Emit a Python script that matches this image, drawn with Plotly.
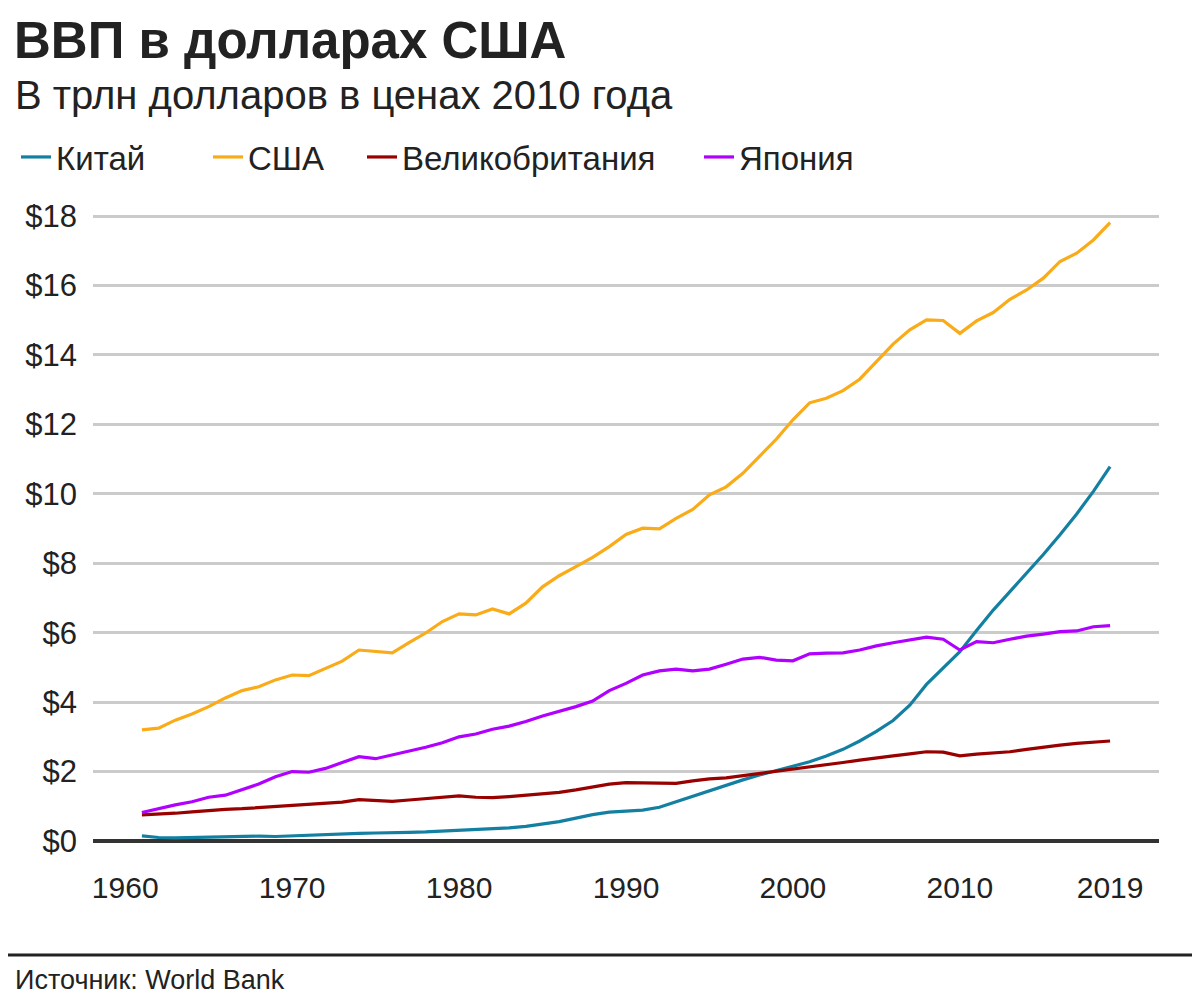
import plotly.graph_objects as go

years = list(range(1961, 2020))

china = [0.15, 0.10, 0.09, 0.10, 0.11, 0.13, 0.15, 0.14, 0.13, 0.15,
         0.18, 0.20, 0.21, 0.22, 0.23, 0.25, 0.25, 0.26, 0.28, 0.31,
         0.33, 0.35, 0.38, 0.42, 0.48, 0.56, 0.66, 0.76, 0.83, 0.86,
         0.89, 0.97, 1.13, 1.30, 1.45, 1.61, 1.76, 1.90, 2.02, 2.14,
         2.28, 2.45, 2.64, 2.88, 3.16, 3.47, 3.91, 4.51, 4.99, 5.45,
         6.06, 6.65, 7.18, 7.71, 8.25, 8.82, 9.42, 10.07, 10.78]

usa = [3.20, 3.25, 3.48, 3.66, 3.87, 4.12, 4.33, 4.44, 4.64, 4.78,
       4.76, 4.97, 5.18, 5.50, 5.45, 5.42, 5.71, 5.99, 6.32, 6.54,
       6.51, 6.68, 6.54, 6.85, 7.32, 7.64, 7.90, 8.17, 8.48, 8.83,
       9.01, 8.99, 9.29, 9.55, 9.97, 10.20, 10.59, 11.07, 11.57, 12.13,
       12.62, 12.75, 12.97, 13.30, 13.81, 14.31, 14.72, 15.01, 14.99, 14.62,
       14.98, 15.22, 15.60, 15.87, 16.21, 16.69, 16.93, 17.31, 17.81]

uk = [0.75, 0.77, 0.80, 0.84, 0.88, 0.91, 0.93, 0.96, 0.99, 1.01,
      1.04, 1.07, 1.12, 1.19, 1.16, 1.14, 1.18, 1.22, 1.27, 1.30,
      1.26, 1.25, 1.28, 1.32, 1.37, 1.40, 1.47, 1.55, 1.64, 1.68,
      1.68, 1.66, 1.66, 1.73, 1.79, 1.82, 1.88, 1.95, 2.02, 2.07,
      2.14, 2.19, 2.26, 2.33, 2.38, 2.45, 2.51, 2.57, 2.56, 2.45,
      2.50, 2.53, 2.57, 2.64, 2.71, 2.76, 2.81, 2.85, 2.88]

japan = [0.82, 0.94, 1.04, 1.13, 1.26, 1.32, 1.47, 1.64, 1.85, 2.00,
         1.98, 2.09, 2.26, 2.43, 2.37, 2.48, 2.57, 2.70, 2.83, 3.00,
         3.08, 3.22, 3.31, 3.44, 3.60, 3.73, 3.87, 4.03, 4.33, 4.54,
         4.78, 4.90, 4.95, 4.90, 4.95, 5.09, 5.24, 5.29, 5.21, 5.19,
         5.39, 5.41, 5.42, 5.50, 5.62, 5.71, 5.79, 5.87, 5.81, 5.50,
         5.74, 5.71, 5.81, 5.90, 5.96, 6.03, 6.05, 6.17, 6.20]

series_names = ["Китай", "США", "Великобритания", "Япония"]
series_values = [china, usa, uk, japan]
series_colors = ["#1380A1", "#FAAB18", "#990000", "#B000FF"]
legend_ids = ["legend", "legend2", "legend3", "legend4"]
legend_text_page_x = [57, 249, 403, 740]

x_tick_vals = [1960, 1970, 1980, 1990, 2000, 2010, 2019]
x_tick_text = ["1960", "1970", "1980", "1990", "2000", "2010", "2019"]
y_tick_vals = [0, 2, 4, 6, 8, 10, 12, 14, 16, 18]
y_tick_text = ["$" + str(v) for v in y_tick_vals]

FONT = "Liberation Sans, Arial, Helvetica, sans-serif"
TXT = "#222222"

# the page body has an 8px margin; work in page pixels and subtract it
OFF = 8
W, H = 1200 - OFF, 1006 - OFF


def f(px):
    return px - OFF


# plot area in page pixels
P_LEFT, P_RIGHT, P_TOP, P_BOTTOM = 93, 1159, 200, 852
L, R, T, B = f(P_LEFT), W - f(P_RIGHT), f(P_TOP), H - f(P_BOTTOM)
plot_h = H - T - B
plot_w = W - L - R


def py(page_y):
    return (f(P_BOTTOM) - f(page_y)) / plot_h


def pxx(page_x):
    return (f(page_x) - f(P_LEFT)) / plot_w


fig = go.Figure()
for name, vals, col, lg in zip(series_names, series_values, series_colors, legend_ids):
    fig.add_trace(go.Scatter(
        x=years, y=vals, mode="lines", name=name,
        line=dict(color=col, width=3.2),
        legend=lg, hoverinfo="skip",
    ))

legend_common = dict(
    orientation="h", xref="container", yref="container",
    y=1 - f(157) / H, yanchor="middle", xanchor="left",
    font=dict(family=FONT, size=33, color=TXT),
    bgcolor="rgba(0,0,0,0)", borderwidth=0,
)
layout_legends = {}
for lg, tx in zip(legend_ids, legend_text_page_x):
    layout_legends[lg] = dict(legend_common, x=max(f(tx) - 41, 0) / W)

fig.update_layout(
    width=W, height=H,
    margin=dict(l=L, r=R, t=T, b=B, autoexpand=False),
    paper_bgcolor="white", plot_bgcolor="white",
    font=dict(family=FONT, color=TXT),
    showlegend=True,
    title=dict(
        text="<b>ВВП в долларах США</b>",
        xref="container", yref="container",
        x=f(14) / W, xanchor="left",
        y=1 - f(40) / H, yanchor="middle",
        font=dict(family=FONT, size=51, color=TXT),
    ),
    xaxis=dict(
        range=[1958.07, 2021.93],
        tickvals=x_tick_vals, ticktext=x_tick_text,
        showgrid=False, zeroline=False, showline=False,
        ticks="", tickfont=dict(family=FONT, size=30, color=TXT),
        ticklabelstandoff=15,
    ),
    yaxis=dict(
        range=[-0.317, 18.461],
        tickvals=y_tick_vals, ticktext=y_tick_text,
        showgrid=True, gridcolor="#cbcbcb", gridwidth=2.5,
        zeroline=True, zerolinecolor="#333333", zerolinewidth=4,
        showline=False, ticks="",
        tickfont=dict(family=FONT, size=31, color=TXT),
        ticklabelstandoff=15,
    ),
    annotations=[
        dict(text="В трлн долларов в ценах 2010 года",
             xref="paper", yref="paper", x=pxx(13), y=py(95),
             xanchor="left", yanchor="middle", showarrow=False,
             font=dict(family=FONT, size=40, color=TXT)),
        dict(text="Источник: World Bank",
             xref="paper", yref="paper", x=pxx(13), y=py(980),
             xanchor="left", yanchor="middle", showarrow=False,
             font=dict(family=FONT, size=27, color=TXT)),
    ],
    shapes=[
        dict(type="line", xref="paper", yref="paper",
             x0=pxx(OFF), x1=pxx(1200), y0=py(955), y1=py(955),
             line=dict(color="#222222", width=3)),
    ],
    **layout_legends,
)

fig.write_html("out.html")
